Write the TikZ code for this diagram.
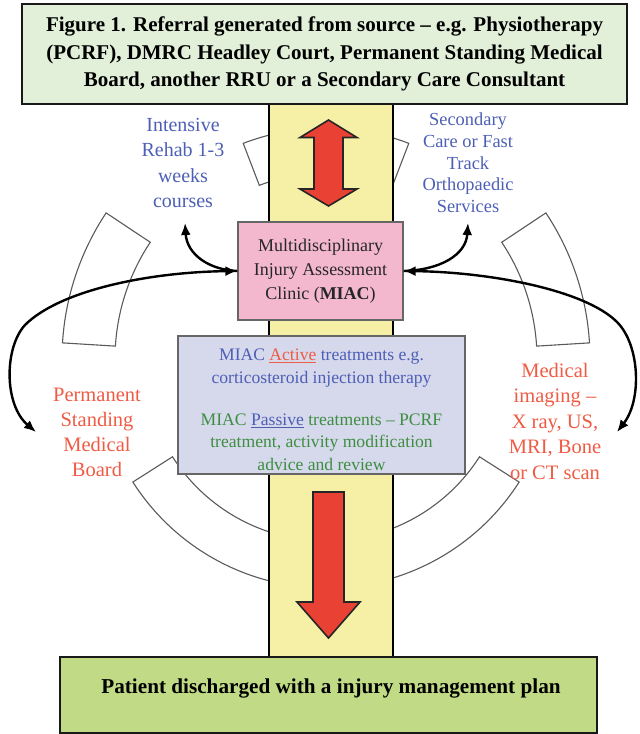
\documentclass[tikz,border=0pt]{standalone}
\usepackage{fontspec}
\setmainfont{Liberation Serif}
\usetikzlibrary{arrows.meta,calc}
\definecolor{titlefill}{HTML}{E2EFD9}
\definecolor{botfill}{HTML}{C1DA86}
\definecolor{colfill}{HTML}{F6F0A7}
\definecolor{redarrow}{HTML}{E94235}
\definecolor{pinkfill}{HTML}{F4B8CE}
\definecolor{lavfill}{HTML}{D6D8EC}
\definecolor{bluetxt}{HTML}{4D5FB5}
\definecolor{greentxt}{HTML}{3E8E41}
\definecolor{redtxt}{HTML}{EF5B44}
\definecolor{bandline}{HTML}{5A5A5A}
\tikzset{
  band/.style={draw=bandline, fill=white, line width=1.1pt},
  colbox/.style={draw=black, fill=colfill, line width=2.2pt},
  bigarrow/.style={draw=black!85, fill=redarrow, line width=1.6pt, line join=miter},
  titlebox/.style={draw=black!90, fill=titlefill, line width=2.6pt, align=center, inner sep=0pt},
  botbox/.style={draw=black!90, fill=botfill, line width=2.2pt, inner sep=0pt},
  miacbox/.style={draw=black!60, fill=pinkfill, line width=1.2pt, align=center, inner sep=0pt, text=black!85},
  treatbox/.style={draw=black!60, fill=lavfill, line width=1.2pt, align=center, inner sep=0pt},
  sidetxt/.style={align=center, inner sep=0pt},
  conn/.style={line width=2.4pt, draw=black, >={Latex[length=12pt,width=10pt]}}
}
\begin{document}
\begin{tikzpicture}[x=1pt,y=1pt]
\useasboundingbox (0,0) rectangle (640,-734);
\coordinate (C) at (326,-359);
% ring bands
\draw[band] ($(C)+(146.4:264)$) arc[start angle=146.4, end angle=176.5, radius=264] -- ($(C)+(176.5:211)$) arc[start angle=176.5, end angle=146.4, radius=211] -- cycle;
\draw[band] ($(C)+(3.5:264)$) arc[start angle=3.5, end angle=33.6, radius=264] -- ($(C)+(33.6:211)$) arc[start angle=33.6, end angle=3.5, radius=211] -- cycle;
\draw[band] ($(C)+(212.5:229)$) arc[start angle=212.5, end angle=268, radius=229] -- ($(C)+(268:182)$) arc[start angle=268, end angle=212.5, radius=182] -- cycle;
\draw[band] ($(C)+(272:229)$) arc[start angle=272, end angle=327.5, radius=229] -- ($(C)+(327.5:182)$) arc[start angle=327.5, end angle=272, radius=182] -- cycle;
\draw[band] ($(C)+(92:231)$) arc[start angle=92, end angle=111, radius=231] -- ($(C)+(111:186)$) arc[start angle=111, end angle=92, radius=186] -- cycle;
\draw[band] ($(C)+(69:231)$) arc[start angle=69, end angle=88, radius=231] -- ($(C)+(88:186)$) arc[start angle=88, end angle=69, radius=186] -- cycle;
% central column
\draw[colbox] (269,-100) rectangle (393,-660);
% red arrows
\draw[bigarrow] (328.5,-120) -- (357,-137.5) -- (343,-137.5) -- (343,-189) -- (357,-189) -- (328.5,-206) -- (300,-189) -- (314,-189) -- (314,-137.5) -- (300,-137.5) -- cycle;
\draw[bigarrow] (313,-492) -- (344,-492) -- (344,-602) -- (360,-602) -- (328.5,-638) -- (297,-602) -- (313,-602) -- cycle;
% boxes
\node[titlebox, minimum width=605pt, minimum height=100pt, font=\fontsize{21}{27.5}\selectfont\bfseries] (src) at (324.5,-54)
  {Figure 1. Referral generated from source – e.g. Physiotherapy\\
   (PCRF), DMRC Headley Court, Permanent Standing Medical\\
   Board, another RRU or a Secondary Care Consultant};
\node[botbox, minimum width=537pt, minimum height=76pt] (dis) at (328.5,-695) {};
\node[inner sep=0pt, font=\fontsize{21.2}{26}\selectfont\bfseries] (distxt) at (331,-688) {Patient discharged with a injury management plan};
\node[miacbox, minimum width=165pt, minimum height=98pt, font=\fontsize{18}{24}\selectfont] (miac) at (320.5,-271)
  {Multidisciplinary\\Injury Assessment\\Clinic (\textbf{MIAC})};
\node[treatbox, minimum width=287pt, minimum height=138pt] (treat) at (321.5,-405) {};
\node[sidetxt, font=\fontsize{17.6}{22.5}\selectfont] (treattxt) at (321.5,-410)
  {\textcolor{bluetxt}{MIAC \textcolor{redtxt}{\underline{Active}} treatments e.g.}\\
   \textcolor{bluetxt}{corticosteroid injection therapy}\\[19.5pt]
   \textcolor{greentxt}{MIAC \textcolor{bluetxt}{\underline{Passive}} treatments – PCRF}\\
   \textcolor{greentxt}{treatment, activity modification}\\
   \textcolor{greentxt}{advice and review}};
% side texts
\node[sidetxt, text=bluetxt, font=\fontsize{20}{25.5}\selectfont] (rehab) at (183,-163)
  {Intensive\\Rehab 1-3\\weeks\\courses};
\node[sidetxt, text=bluetxt, font=\fontsize{18.4}{21.7}\selectfont] (sec) at (468,-163)
  {Secondary\\Care or Fast\\Track\\Orthopaedic\\Services};
\node[sidetxt, text=redtxt, font=\fontsize{20.5}{25}\selectfont] (perm) at (97,-432)
  {Permanent\\Standing\\Medical\\Board};
\node[sidetxt, text=redtxt, font=\fontsize{20.5}{25.5}\selectfont] (med) at (555,-421)
  {Medical\\imaging –\\X ray, US,\\MRI, Bone\\or CT scan};
% connectors
\coordinate (rt) at (185,-223);
\coordinate (st) at (468,-223);
\coordinate (pl) at (36,-432);
\coordinate (pr) at (617,-432);
\draw[conn, <-] (rt) .. controls (187,-255) and (210,-270) .. (miac.west);
\draw[conn, <-] (st) .. controls (466,-255) and (440,-270) .. (miac.east);
\draw[conn, <->] (miac.west) .. controls (150,-272) and (60,-290) .. (25,-325) .. controls (4,-348) and (4,-405) .. (pl);
\draw[conn, <->] (miac.east) .. controls (490,-272) and (585,-290) .. (617,-322) .. controls (640,-345) and (642,-400) .. (pr);
\end{tikzpicture}
\end{document}
